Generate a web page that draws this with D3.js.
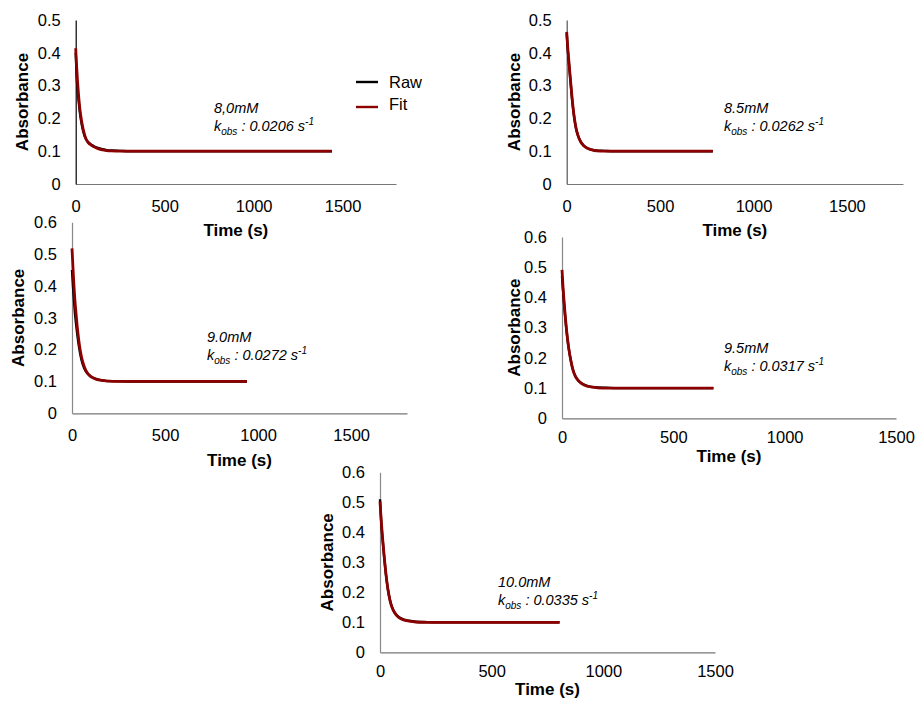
<!DOCTYPE html>
<html lang="en">
<head>
<meta charset="UTF-8">
<title>Absorbance decay</title>
<script src="https://cdn.jsdelivr.net/npm/d3@7/dist/d3.min.js"></script>
<style>
  body { margin: 0; background: #fff; }
  svg text { font-family: "Liberation Sans", Arial, sans-serif; fill: #000; }
</style>
</head>
<body>
<svg width="918" height="706"></svg>
<script>
// data (time in s, absorbance)
var xTicks = [0, 500, 1000, 1500];
var yTicks5 = [0, 0.1, 0.2, 0.3, 0.4, 0.5];
var yTicks6 = [0, 0.1, 0.2, 0.3, 0.4, 0.5, 0.6];
var concLabels = ["8,0mM", "8.5mM", "9.0mM", "9.5mM", "10.0mM"];
var kobsLabels = ["0.0206", "0.0262", "0.0272", "0.0317", "0.0335"];

var time1 = [0, 5, 10, 15, 25, 35, 50, 65, 80, 100, 125, 150, 175, 200, 250, 300, 400, 600, 800, 1000, 1200, 1440];
var raw1  = [0.40, 0.33, 0.29, 0.262, 0.212, 0.178, 0.146, 0.131, 0.123, 0.116, 0.110, 0.106, 0.103, 0.102, 0.101, 0.100, 0.100, 0.100, 0.100, 0.100, 0.100, 0.100];
var fit1  = [0.414, 0.36, 0.315, 0.279, 0.222, 0.186, 0.150, 0.130, 0.121, 0.114, 0.108, 0.104, 0.102, 0.101, 0.100, 0.100, 0.100, 0.100, 0.100, 0.100, 0.100, 0.100];

var time2 = [0, 5, 10, 15, 20, 30, 40, 50, 60, 75, 90, 110, 130, 160, 200, 250, 300, 400, 500, 600, 700, 782];
var raw2  = [0.46, 0.415, 0.38, 0.348, 0.315, 0.252, 0.204, 0.170, 0.149, 0.129, 0.118, 0.110, 0.105, 0.102, 0.101, 0.100, 0.100, 0.100, 0.100, 0.100, 0.100, 0.100];
var fit2  = [0.464, 0.42, 0.385, 0.352, 0.318, 0.255, 0.205, 0.170, 0.148, 0.128, 0.117, 0.109, 0.105, 0.101, 0.100, 0.100, 0.100, 0.100, 0.100, 0.100, 0.100, 0.100];

var time3 = [0, 5, 10, 15, 20, 30, 40, 50, 65, 80, 100, 125, 150, 180, 220, 300, 400, 500, 600, 700, 800, 940];
var raw3  = [0.45, 0.40, 0.36, 0.32, 0.29, 0.24, 0.20, 0.170, 0.142, 0.127, 0.116, 0.109, 0.105, 0.102, 0.101, 0.100, 0.100, 0.100, 0.100, 0.100, 0.100, 0.100];
var fit3  = [0.518, 0.46, 0.405, 0.36, 0.325, 0.262, 0.214, 0.180, 0.148, 0.129, 0.116, 0.108, 0.104, 0.102, 0.1005, 0.100, 0.100, 0.100, 0.100, 0.100, 0.100, 0.100];

var time4 = [0, 5, 10, 15, 20, 30, 40, 50, 60, 75, 90, 110, 130, 160, 200, 250, 300, 400, 500, 600, 680];
var raw4  = [0.47, 0.42, 0.372, 0.33, 0.292, 0.232, 0.190, 0.159, 0.140, 0.124, 0.115, 0.108, 0.104, 0.102, 0.101, 0.100, 0.100, 0.100, 0.100, 0.100, 0.100];
var fit4  = [0.491, 0.43, 0.38, 0.335, 0.295, 0.233, 0.190, 0.158, 0.139, 0.123, 0.114, 0.107, 0.104, 0.101, 0.100, 0.100, 0.100, 0.100, 0.100, 0.100, 0.100];

var time5 = [0, 5, 10, 15, 20, 30, 40, 50, 60, 75, 90, 110, 130, 160, 200, 250, 300, 400, 500, 600, 700, 804];
var raw5  = [0.51, 0.44, 0.39, 0.348, 0.307, 0.238, 0.190, 0.159, 0.140, 0.124, 0.115, 0.108, 0.105, 0.102, 0.101, 0.100, 0.100, 0.100, 0.100, 0.100, 0.100, 0.100];
var fit5  = [0.502, 0.445, 0.395, 0.352, 0.310, 0.240, 0.190, 0.158, 0.139, 0.122, 0.113, 0.107, 0.104, 0.101, 0.100, 0.100, 0.100, 0.100, 0.100, 0.100, 0.100, 0.100];

// panel layout (pixels)
var panels = [
  {t: time1, raw: raw1, fit: fit1, x0: 75.7, x1: 396, yTop: 20, yBot: 184, xMax: 1800, yMax: 0.5, yt: yTicks5,
   tickPad: 16, titleOff: 52, yTitleX: 22, yAxisCol: "#000", note: [214, 113], legend: true},
  {t: time2, raw: raw2, fit: fit2, x0: 566.7, x1: 903, yTop: 20, yBot: 184, xMax: 1800, yMax: 0.5, yt: yTicks5,
   tickPad: 16, titleOff: 52, yTitleX: 514, yAxisCol: "#555", note: [724, 113]},
  {t: time3, raw: raw3, fit: fit3, x0: 72, x1: 407, yTop: 222.3, yBot: 413.3, xMax: 1800, yMax: 0.6, yt: yTicks6,
   tickPad: 16, titleOff: 53, yTitleX: 18.5, yAxisCol: "#888", note: [207, 342]},
  {t: time4, raw: raw4, fit: fit4, x0: 562, x1: 896, yTop: 237, yBot: 418.3, xMax: 1500, yMax: 0.6, yt: yTicks6,
   tickPad: 13, titleOff: 44, yTitleX: 514, yAxisCol: "#888", note: [724, 353]},
  {t: time5, raw: raw5, fit: fit5, x0: 380, x1: 715, yTop: 472.3, yBot: 652.3, xMax: 1500, yMax: 0.6, yt: yTicks6,
   tickPad: 13, titleOff: 43, yTitleX: 327, yAxisCol: "#888", note: [498, 587]}
];

var svg = d3.select("svg");
var fitColor = "#8b0000";

panels.forEach(function(p, i) {
  var x = d3.scaleLinear().domain([0, p.xMax]).range([p.x0, p.x1]);
  var y = d3.scaleLinear().domain([0, p.yMax]).range([p.yBot, p.yTop]);
  var g = svg.append("g");

  // axes
  var ax = g.append("g")
    .attr("transform", "translate(0," + p.yBot + ")")
    .call(d3.axisBottom(x).tickValues(xTicks).tickSize(0).tickPadding(p.tickPad).tickFormat(d3.format("d")));
  ax.select(".domain").attr("stroke", "#777").attr("stroke-width", 1.2);
  ax.selectAll("text").style("font-size", "16.5px");

  var ay = g.append("g")
    .attr("transform", "translate(" + p.x0 + ",0)")
    .call(d3.axisLeft(y).tickValues(p.yt).tickSize(0).tickPadding(15)
      .tickFormat(function(d) { return d === 0 ? "0" : d3.format(".1f")(d); }));
  ay.select(".domain").attr("stroke", p.yAxisCol).attr("stroke-width", 1.2);
  ay.selectAll("text").style("font-size", "16.5px");

  // titles
  g.append("text")
    .attr("x", (p.x0 + p.x1) / 2)
    .attr("y", p.yBot + p.titleOff)
    .attr("text-anchor", "middle")
    .style("font-size", "17px").style("font-weight", "bold")
    .text("Time (s)");
  g.append("text")
    .attr("transform", "translate(" + p.yTitleX + "," + (p.yTop + p.yBot) / 2 + ") rotate(-90)")
    .attr("text-anchor", "middle")
    .attr("dy", "0.35em")
    .style("font-size", "17px").style("font-weight", "bold")
    .text("Absorbance");

  // lines
  var line = d3.line()
    .x(function(d) { return x(d[0]); })
    .y(function(d) { return y(d[1]); })
    .curve(d3.curveMonotoneX);
  g.append("path")
    .datum(d3.zip(p.t, p.raw))
    .attr("d", line)
    .attr("fill", "none").attr("stroke", "#000").attr("stroke-width", 2.4);
  g.append("path")
    .datum(d3.zip(p.t, p.fit))
    .attr("d", line)
    .attr("fill", "none").attr("stroke", fitColor).attr("stroke-width", 2.8);

  // annotation
  var note = g.append("g").style("font-style", "italic").style("font-size", "14.5px");
  note.append("text").attr("x", p.note[0]).attr("y", p.note[1]).text(concLabels[i]);
  var k = note.append("text").attr("x", p.note[0]).attr("y", p.note[1] + 18);
  k.append("tspan").text("k");
  k.append("tspan").attr("dy", 4).style("font-size", "10px").text("obs");
  k.append("tspan").attr("dy", -4).text(" : " + kobsLabels[i] + " s");
  k.append("tspan").attr("dy", -6).style("font-size", "10px").text("-1");

  // legend
  if (p.legend) {
    var leg = g.append("g");
    [["Raw", "#000", 82], ["Fit", fitColor, 107]].forEach(function(l) {
      leg.append("line").attr("x1", 356).attr("x2", 378).attr("y1", l[2]).attr("y2", l[2])
        .attr("stroke", l[1]).attr("stroke-width", 2.4);
      leg.append("text").attr("x", 389).attr("y", l[2] - (l[0] === "Fit" ? 3 : 0)).attr("dy", "0.35em")
        .style("font-size", "16.5px").text(l[0]);
    });
  }
});
</script>
</body>
</html>
